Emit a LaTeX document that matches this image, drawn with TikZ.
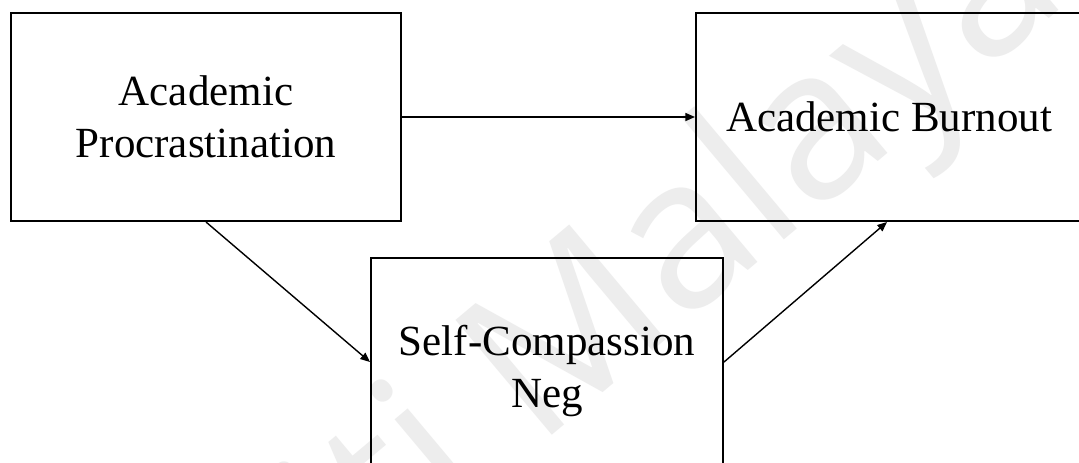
\documentclass[tikz,border=0pt]{standalone}
\usepackage{fontspec}
\setmainfont{Liberation Serif}
\newfontfamily\wmfont{Open Sans}
\usetikzlibrary{arrows.meta}
\definecolor{wmgray}{HTML}{EDEDED}
\tikzset{
  concept/.style={draw=black, line width=1pt, inner sep=0pt,
    align=center, text depth=0pt,
    font=\fontsize{21.5pt}{26pt}\selectfont},
  link/.style={line width=0.7pt, -{Triangle[length=4.8pt,width=4pt]}},
  watermark/.style={text=wmgray, inner sep=0pt,
    font=\wmfont\fontsize{105pt}{105pt}\selectfont}
}
\begin{document}
\begin{tikzpicture}[x=0.5pt, y=-0.5pt]
  \clip (0,0) rectangle (1079,462);
  \fill[white] (0,0) rectangle (1079,462);

  % faint background stamp
  \node[watermark, rotate=40, anchor=base west] (stamp) at (536,449)
    {\llap{Universiti }Malaya};

  % variables of the mediation model
  \node[concept, minimum width=195pt, minimum height=104pt] (proc) at (206,117)
    {Academic\\Procrastination};
  \node[concept, minimum width=193pt, minimum height=104pt] (burn) at (889,117)
    {Academic Burnout};
  \node[concept, minimum width=176pt, minimum height=108pt] (self) at (547,366)
    {Self-Compassion\\Neg};

  % paths
  \draw[link] (proc.east) -- (burn.west);
  \draw[link] (proc.south) -- ([yshift=2pt]self.west);
  \draw[link] ([yshift=2pt]self.east) -- ([xshift=-1pt]burn.south);
\end{tikzpicture}
\end{document}
